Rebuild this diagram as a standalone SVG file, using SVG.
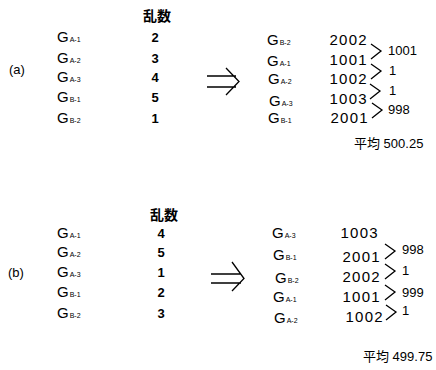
<svg xmlns="http://www.w3.org/2000/svg" width="436" height="370" viewBox="0 0 436 370">
<style>
text{font-family:"Liberation Sans","Noto Sans CJK JP",sans-serif;fill:#000}
.g{font-size:15px}
.s{font-size:7px}
.n{font-size:13px;font-weight:bold;text-anchor:middle}
.h{font-size:14px;font-weight:bold}
.v{font-size:15px;letter-spacing:1.3px;text-anchor:end}
.d{font-size:13px}
.lab{font-size:13px}
.ln{fill:none;stroke:#000;stroke-width:1.3}
</style>
<rect width="436" height="370" fill="#fff"/>
<g id="a-block">
<text class="lab" x="9" y="74">(a)</text>
<text class="h" x="143" y="21">乱数</text>
<g id="a-left">
<text class="g" x="57" y="42">G<tspan class="s" dx="1">A-1</tspan></text>
<text class="g" x="57" y="63">G<tspan class="s" dx="1">A-2</tspan></text>
<text class="g" x="57" y="82">G<tspan class="s" dx="1">A-3</tspan></text>
<text class="g" x="57" y="102">G<tspan class="s" dx="1">B-1</tspan></text>
<text class="g" x="57" y="123">G<tspan class="s" dx="1">B-2</tspan></text>
<text class="n" x="155" y="42">2</text>
<text class="n" x="155" y="63">3</text>
<text class="n" x="155" y="82">4</text>
<text class="n" x="155" y="102">5</text>
<text class="n" x="155" y="123">1</text>
</g>
<g id="a-arrow">
<path class="ln" d="M207 76H236M207 87H236M226 68L239 81.5L226 95"/>
</g>
<g id="a-right">
<text class="g" x="267" y="45">G<tspan class="s" dx="1">B-2</tspan></text>
<text class="g" x="267" y="66">G<tspan class="s" dx="1">A-1</tspan></text>
<text class="g" x="268" y="84">G<tspan class="s" dx="1">A-2</tspan></text>
<text class="g" x="269" y="106">G<tspan class="s" dx="1">A-3</tspan></text>
<text class="g" x="268" y="123">G<tspan class="s" dx="1">B-1</tspan></text>
<text class="v" x="368" y="45">2002</text>
<text class="v" x="368" y="65">1001</text>
<text class="v" x="368" y="84">1002</text>
<text class="v" x="368" y="104">1003</text>
<text class="v" x="369" y="123">2001</text>
<path class="ln" d="M371 44L381 51L371 59M371 64L381 71L371 79M370 84L380 91L370 99M372 103L382 110L372 118" stroke-width="0.9"/>
<text class="d" x="388" y="55">1001</text>
<text class="d" x="389" y="75">1</text>
<text class="d" x="389" y="95">1</text>
<text class="d" x="388" y="114">998</text>
<text class="d" x="354" y="148">平均 500.25</text>
</g>
</g>
<g id="b-block">
<text class="lab" x="8" y="277">(b)</text>
<text class="h" x="150" y="220">乱数</text>
<g id="b-left">
<text class="g" x="57" y="238">G<tspan class="s" dx="1">A-1</tspan></text>
<text class="g" x="57" y="257">G<tspan class="s" dx="1">A-2</tspan></text>
<text class="g" x="57" y="277">G<tspan class="s" dx="1">A-3</tspan></text>
<text class="g" x="57" y="297">G<tspan class="s" dx="1">B-1</tspan></text>
<text class="g" x="57" y="318">G<tspan class="s" dx="1">B-2</tspan></text>
<text class="n" x="161" y="238">4</text>
<text class="n" x="161" y="257">5</text>
<text class="n" x="161" y="277">1</text>
<text class="n" x="161" y="297">2</text>
<text class="n" x="161" y="318">3</text>
</g>
<g id="b-arrow">
<path class="ln" d="M211 274H241M211 283H241M232 262L244 278.5L232 291"/>
</g>
<g id="b-right">
<text class="g" x="272" y="238">G<tspan class="s" dx="1">A-3</tspan></text>
<text class="g" x="273" y="260">G<tspan class="s" dx="1">B-1</tspan></text>
<text class="g" x="275" y="283">G<tspan class="s" dx="1">B-2</tspan></text>
<text class="g" x="273" y="302">G<tspan class="s" dx="1">A-1</tspan></text>
<text class="g" x="274" y="323">G<tspan class="s" dx="1">A-2</tspan></text>
<text class="v" x="379" y="238">1003</text>
<text class="v" x="381" y="262">2001</text>
<text class="v" x="381" y="282">2002</text>
<text class="v" x="381" y="302">1001</text>
<text class="v" x="384" y="322">1002</text>
<path class="ln" d="M385 244L395 251L385 259M385 264L395 271L385 279M385 285L395 292L385 300M386 305L396 312L386 320" stroke-width="0.9"/>
<text class="d" x="402" y="254">998</text>
<text class="d" x="402" y="275">1</text>
<text class="d" x="402" y="297">999</text>
<text class="d" x="402" y="315">1</text>
<text class="d" x="363" y="361">平均 499.75</text>
</g>
</g>
</svg>
